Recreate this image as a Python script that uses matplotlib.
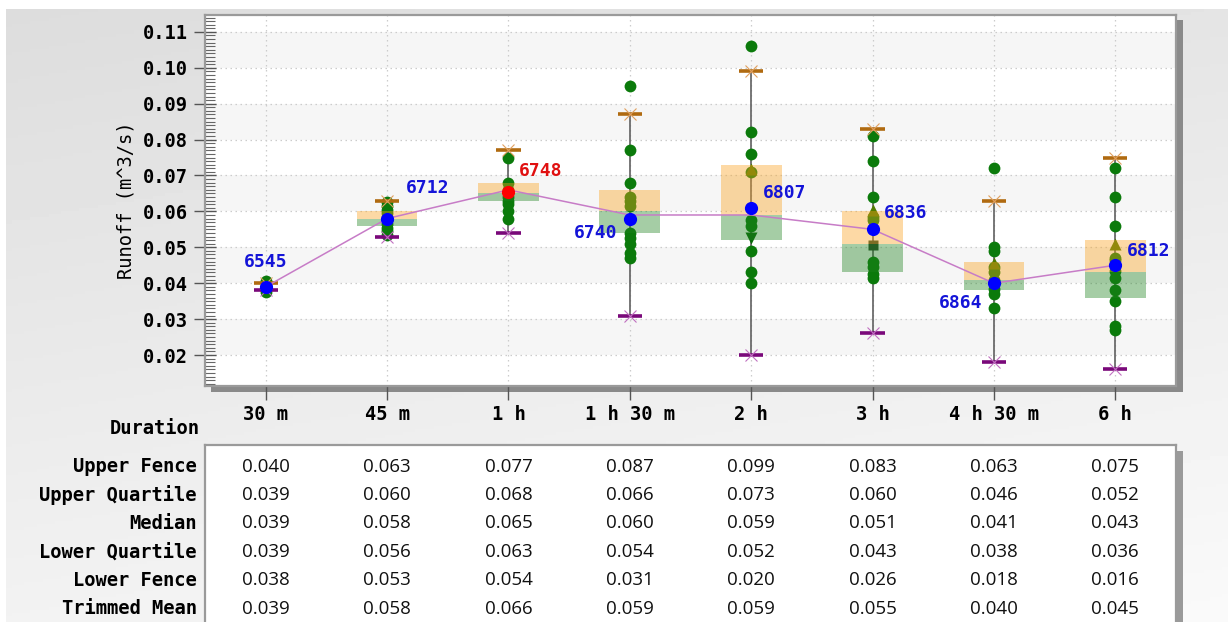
import numpy as np
import matplotlib
matplotlib.use("Agg")
import matplotlib.pyplot as plt
from matplotlib.patches import Rectangle
from matplotlib.ticker import MultipleLocator, FixedLocator

# ---------------- data ----------------
durations = ["30 m", "45 m", "1 h", "1 h 30 m", "2 h", "3 h", "4 h 30 m", "6 h"]
upper_fence = [0.040, 0.063, 0.077, 0.087, 0.099, 0.083, 0.063, 0.075]
upper_quartile = [0.039, 0.060, 0.068, 0.066, 0.073, 0.060, 0.046, 0.052]
median = [0.039, 0.058, 0.065, 0.060, 0.059, 0.051, 0.041, 0.043]
lower_quartile = [0.039, 0.056, 0.063, 0.054, 0.052, 0.043, 0.038, 0.036]
lower_fence = [0.038, 0.053, 0.054, 0.031, 0.020, 0.026, 0.018, 0.016]
trimmed_mean = [0.039, 0.058, 0.066, 0.059, 0.059, 0.055, 0.040, 0.045]

obs_30m = [0.0375, 0.0385, 0.0390, 0.0395, 0.0405]
obs_45m = [0.0535, 0.0545, 0.0555, 0.0565, 0.0575, 0.0585, 0.0595, 0.0605, 0.0615, 0.0625]
obs_1h = [0.075, 0.068, 0.066, 0.064, 0.063, 0.062, 0.060, 0.058]
obs_1h30 = [0.095, 0.077, 0.068, 0.064, 0.063, 0.0615, 0.054, 0.0525, 0.051, 0.0485, 0.047]
obs_2h = [0.106, 0.082, 0.076, 0.071, 0.0575, 0.056, 0.049, 0.043, 0.040]
obs_3h = [0.081, 0.074, 0.064, 0.0585, 0.0575, 0.046, 0.0445, 0.0425, 0.0415]
obs_4h30 = [0.072, 0.050, 0.049, 0.0445, 0.043, 0.041, 0.0385, 0.037, 0.033]
obs_6h = [0.072, 0.064, 0.056, 0.047, 0.0465, 0.0435, 0.0415, 0.038, 0.035, 0.028, 0.027]
observations = [obs_30m, obs_45m, obs_1h, obs_1h30, obs_2h, obs_3h, obs_4h30, obs_6h]

tri_up_idx = [4, 5, 6, 7]
tri_up_val = [0.0718, 0.0605, 0.0455, 0.0510]
tri_down_idx = [4]
tri_down_val = [0.0525]
square_idx = [5]
square_val = [0.0506]

station_ids = ["6545", "6712", "6748", "6740", "6807", "6836", "6864", "6812"]
station_vals = [0.039, 0.058, 0.0655, 0.058, 0.061, 0.055, 0.040, 0.045]
critical_idx = 2

row_names = ["Upper Fence", "Upper Quartile", "Median", "Lower Quartile",
             "Lower Fence", "Trimmed Mean"]
row_values = [upper_fence, upper_quartile, median, lower_quartile,
              lower_fence, trimmed_mean]

y_ticks = [0.02, 0.03, 0.04, 0.05, 0.06, 0.07, 0.08, 0.09, 0.10, 0.11]

# ---------------- layout ----------------
W, H = 1228, 622
fig = plt.figure(figsize=(W / 100, H / 100), dpi=100)
fig.patch.set_facecolor("white")

def fx(px):
    return px / W

def fy(py):
    return 1 - py / H

# background gradient
bg = fig.add_axes([fx(6), 0, 1 - fx(6), fy(9)], zorder=-10)
gy, gx = np.mgrid[0:1:200j, 0:1:200j]
val = 0.865 + 0.085 * gy + 0.03 * gx
bg.imshow(val, cmap="gray", vmin=0, vmax=1, aspect="auto", extent=[0, 1, 1, 0])
bg.set_axis_off()

mono = "DejaVu Sans Mono"
mono_bold = dict(family=mono, weight="bold")
FS = 13.5

# plot-area shadow
fig.patches.append(Rectangle((fx(211), fy(392)), fx(1183) - fx(211), fy(20) - fy(392),
                             transform=fig.transFigure, facecolor="#8a8a8a",
                             edgecolor="none", zorder=-5))

L, R, T, B = 205, 1176, 15, 386
ax = fig.add_axes([fx(L), fy(B), fx(R) - fx(L), fy(T) - fy(B)])
ax.set_facecolor("white")
n = len(durations)
x = np.arange(n)
ax.set_xlim(-0.5, n - 0.5)
ax.set_ylim(0.01137, 0.1147)

# alternating bands
for i in range(0, len(y_ticks) - 1, 2):
    ax.axhspan(y_ticks[i], y_ticks[i + 1], color="#f6f6f6", zorder=0, lw=0)

# grid
for yv in y_ticks:
    ax.axhline(yv, color="#cccccc", lw=0.9, ls=(0, (1.2, 2.8)), zorder=1)
for xv in x:
    ax.axvline(xv, color="#cccccc", lw=0.9, ls=(0, (1.2, 2.8)), zorder=1)

cap_half = 0.1
box_half = 0.25
for i in range(n):
    ax.plot([x[i], x[i]], [lower_fence[i], upper_fence[i]], color="#606060",
            lw=1.2, zorder=2)
    ax.plot([x[i]] * len(observations[i]), observations[i], "o", color="#0b7a0b",
            ms=8.5, mec="none", zorder=3)
    ax.plot([x[i] - cap_half, x[i] + cap_half], [upper_fence[i]] * 2,
            color="#b06a10", lw=2.6, zorder=4, solid_capstyle="butt")
    ax.plot([x[i] - cap_half, x[i] + cap_half], [lower_fence[i]] * 2,
            color="#7a087a", lw=2.6, zorder=4, solid_capstyle="butt")
    ax.plot(x[i], upper_fence[i], "x", color="#e0a060", ms=9, mew=0.8, zorder=4)
    ax.plot(x[i], lower_fence[i], "x", color="#c070c0", ms=9, mew=0.8, zorder=4)

ax.plot([x[i] for i in tri_up_idx], tri_up_val, "^", color="#4e7a00", ms=8,
        mec="none", zorder=3)
ax.plot([x[i] for i in tri_down_idx], tri_down_val, "v", color="#0b6a0b", ms=8,
        mec="none", zorder=3)
ax.plot([x[i] for i in square_idx], square_val, "s", color="#2a4a2a", ms=7,
        mec="none", zorder=3)

# boxes (drawn over points, semi-transparent)
ax.bar(x, np.array(upper_quartile) - np.array(median), bottom=median,
       width=2 * box_half, color=(250 / 255, 162 / 255, 30 / 255), alpha=0.4,
       lw=0, zorder=4.5)
ax.bar(x, np.array(median) - np.array(lower_quartile), bottom=lower_quartile,
       width=2 * box_half, color=(30 / 255, 130 / 255, 30 / 255), alpha=0.4,
       lw=0, zorder=4.5)

# trimmed mean line
ax.plot(x, trimmed_mean, color="#c77cc7", lw=1.1, zorder=5)

# station points & labels
label_offsets = [(0, 25), (41, 31), (32, 21), (-34, -14), (33, 15), (33, 16),
                 (-33, -20), (33, 14)]
for i in range(n):
    c = "#ff0000" if i == critical_idx else "#0000ff"
    ax.plot(x[i], station_vals[i], "o", color=c, ms=9.5, mec="none", zorder=6)
    ax.annotate(station_ids[i], (x[i], station_vals[i]), xytext=label_offsets[i],
                textcoords="offset pixels", ha="center", va="center",
                color="#e01010" if i == critical_idx else "#1414d8",
                fontsize=13, zorder=7, **mono_bold)

# axes styling
for s in ["top", "right", "bottom", "left"]:
    ax.spines[s].set_color("#9a9a9a")
    ax.spines[s].set_linewidth(1.6)
ax.yaxis.set_major_locator(FixedLocator(y_ticks))
ax.yaxis.set_minor_locator(MultipleLocator(0.001))
ax.set_yticklabels([f"{v:.2f}" for v in y_ticks], fontsize=FS, **mono_bold)
ax.tick_params(axis="y", which="major", direction="inout", length=16, width=1,
               color="#555555", pad=4)
ax.tick_params(axis="y", which="minor", direction="in", length=7.5, width=0.8,
               color="#666666")
ax.set_xticks(x)
ax.set_xticklabels(durations, fontsize=FS, **mono_bold)
ax.tick_params(axis="x", which="major", direction="out", length=10, width=1,
               color="#555555", pad=4)
ax.set_ylabel("Runoff (m^3/s)", family=mono, fontsize=13.5, labelpad=6)

fig.text(fx(200), fy(428), "Duration", ha="right", va="center", fontsize=FS,
         **mono_bold)

# ---------------- table ----------------
TT = 445
fig.patches.append(Rectangle((fx(1176), 0), fx(7), fy(451), transform=fig.transFigure,
                             facecolor="#9a9a9a", edgecolor="none", zorder=-5))
axt = fig.add_axes([fx(L), 0, fx(R) - fx(L), fy(TT)])
axt.set_facecolor("white")
axt.set_xlim(-0.5, n - 0.5)
axt.set_ylim(H, TT)
axt.set_xticks([])
axt.set_yticks([])
axt.spines["bottom"].set_visible(False)
for s in ["top", "left", "right"]:
    axt.spines[s].set_color("#9a9a9a")
    axt.spines[s].set_linewidth(1.6)

for r, (name, vals) in enumerate(zip(row_names, row_values)):
    ry = 466.5 + r * 28.4
    fig.text(fx(197), fy(ry), name, ha="right", va="center", fontsize=FS,
             **mono_bold)
    for i in range(n):
        axt.text(x[i], ry, f"{vals[i]:.3f}", ha="center", va="center",
                 fontsize=13.5, family="Open Sans", color="#111111")

fig.savefig("out.png", dpi=100)
